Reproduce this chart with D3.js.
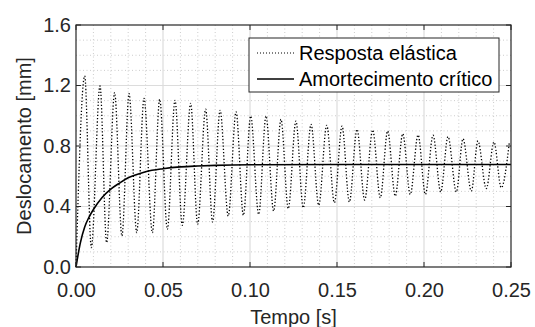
<!DOCTYPE html>
<html>
<head>
<meta charset="utf-8">
<script src="https://cdn.jsdelivr.net/npm/d3@7"></script>
<style>
	body{margin:0;background:#fff;}
	svg{display:block;font-family:"Liberation Sans",Arial,sans-serif;}
</style>
</head>
<body>
<div id="chart"></div>
<script>
// elastic response (peaks and troughs)
const elasticT = [0, 0.0050, 0.0088, 0.0138, 0.0176, 0.0222, 0.0264, 0.0305, 0.0349, 0.0391, 0.0439, 0.0481,
	0.0525, 0.0569, 0.0611, 0.0659, 0.0699, 0.0745, 0.0785, 0.0828, 0.0875, 0.0920, 0.0962, 0.1004,
	0.1050, 0.1092, 0.1136, 0.1178, 0.1220, 0.1264, 0.1306, 0.1351, 0.1395, 0.1441, 0.1485, 0.1529,
	0.1571, 0.1615, 0.1659, 0.1705, 0.1749, 0.1791, 0.1835, 0.1878, 0.1921, 0.1966, 0.2008, 0.2052,
	0.2096, 0.2138, 0.2186, 0.2224, 0.2272, 0.2310, 0.2358, 0.2402, 0.2444, 0.2490];
const elasticV = [0, 1.263, 0.128, 1.197, 0.161, 1.153, 0.205, 1.146, 0.227, 1.115, 0.227, 1.109,
	0.249, 1.102, 0.276, 1.082, 0.282, 1.043, 0.298, 1.036, 0.337, 1.025, 0.342, 0.998,
	0.348, 0.998, 0.370, 0.976, 0.386, 0.965, 0.392, 0.943, 0.408, 0.937, 0.425, 0.932,
	0.430, 0.910, 0.443, 0.906, 0.458, 0.899, 0.469, 0.881, 0.480, 0.873, 0.480, 0.871,
	0.496, 0.862, 0.496, 0.848, 0.502, 0.833, 0.518, 0.826, 0.524, 0.820];

// critical damping curve
const criticalT = [0, 0.0025, 0.005, 0.0075, 0.01, 0.015, 0.02, 0.025, 0.03, 0.035, 0.04, 0.05, 0.06, 0.07, 0.08, 0.1, 0.15, 0.2, 0.25];
const criticalV = [0, 0.16, 0.265, 0.33, 0.38, 0.46, 0.515, 0.555, 0.59, 0.612, 0.63, 0.65, 0.662, 0.668, 0.672, 0.676, 0.678, 0.678, 0.678];

const xTicks = [0, 0.05, 0.10, 0.15, 0.20, 0.25];
const yTicks = [0, 0.4, 0.8, 1.2, 1.6];
const legendLabels = ["Resposta elástica", "Amortecimento crítico"];

const width = 535, height = 327;
const margin = {t:25, r:24, b:60, l:76};
const w = width - margin.l - margin.r;
const h = height - margin.t - margin.b;
const axisColor = "#262626";

const svg = d3.select('#chart').append('svg')
	.attr('width', width)
	.attr('height', height);

const plot = svg.append('g')
	.attr('transform', `translate(${margin.l},${margin.t})`);

const scaleX = d3.scaleLinear().domain([0, 0.25]).range([0, w]);
const scaleY = d3.scaleLinear().domain([0, 1.6]).range([h, 0]);

// minor grid (dotted)
const minorX = d3.range(0.01, 0.25, 0.01).filter(d => Math.abs(d*20 - Math.round(d*20)) > 1e-6);
const minorY = d3.range(0.1, 1.6, 0.1).filter(d => Math.abs(d*2.5 - Math.round(d*2.5)) > 1e-6);

plot.append('g').attr('class','grid-minor')
	.selectAll('line').data(minorX).enter().append('line')
	.attr('x1', d => scaleX(d)).attr('x2', d => scaleX(d))
	.attr('y1', 0).attr('y2', h);
plot.append('g').attr('class','grid-minor')
	.selectAll('line').data(minorY).enter().append('line')
	.attr('x1', 0).attr('x2', w)
	.attr('y1', d => scaleY(d)).attr('y2', d => scaleY(d));
plot.selectAll('.grid-minor line')
	.style('stroke', '#cccccc')
	.style('stroke-width', 1)
	.style('stroke-dasharray', '1,2.5');

// major grid
plot.append('g').attr('class','grid-major')
	.selectAll('line').data(xTicks.slice(1, -1)).enter().append('line')
	.attr('x1', d => scaleX(d)).attr('x2', d => scaleX(d))
	.attr('y1', 0).attr('y2', h);
plot.append('g').attr('class','grid-major')
	.selectAll('line').data(yTicks.slice(1, -1)).enter().append('line')
	.attr('x1', 0).attr('x2', w)
	.attr('y1', d => scaleY(d)).attr('y2', d => scaleY(d));
plot.selectAll('.grid-major line')
	.style('stroke', '#dcdcdc')
	.style('stroke-width', 1.2);

// series
const elastic = elasticT.map((t, i) => ({t, v: elasticV[i]}));
const critical = criticalT.map((t, i) => ({t, v: criticalV[i]}));

const line = d3.line()
	.x(d => scaleX(d.t))
	.y(d => scaleY(d.v))
	.curve(d3.curveMonotoneX);

plot.append('path')
	.datum(elastic)
	.attr('d', line)
	.style('fill', 'none')
	.style('stroke', '#000')
	.style('stroke-width', 1.3)
	.style('stroke-dasharray', '1.3,2');

plot.append('path')
	.datum(critical)
	.attr('d', line)
	.style('fill', 'none')
	.style('stroke', '#000')
	.style('stroke-width', 1.6);

// axes
const axisX = d3.axisBottom(scaleX).tickValues(xTicks).tickSize(0).tickPadding(0)
	.tickFormat(d3.format('.2f'));
const axisY = d3.axisLeft(scaleY).tickValues(yTicks).tickSize(0).tickPadding(0)
	.tickFormat(d3.format('.1f'));

const axisXNode = plot.append('g')
	.attr('class','axis-x')
	.attr('transform', `translate(0,${h})`)
	.call(axisX);
axisXNode.selectAll('text')
	.attr('y', 16)
	.attr('dy', '0.71em');

const axisYNode = plot.append('g')
	.attr('class','axis-y')
	.call(axisY);
axisYNode.selectAll('text')
	.attr('x', -5);

plot.selectAll('.axis-x .domain, .axis-y .domain').style('display','none');
plot.selectAll('.axis-x text, .axis-y text')
	.style('font-size', '20px')
	.style('font-family', '"Liberation Sans",Arial,sans-serif')
	.style('fill', axisColor);

// inward ticks on all four sides
const tickLen = 5;
const ticks = plot.append('g').attr('class','ticks');
xTicks.forEach(d => {
	ticks.append('line').attr('x1', scaleX(d)).attr('x2', scaleX(d)).attr('y1', h).attr('y2', h - tickLen);
	ticks.append('line').attr('x1', scaleX(d)).attr('x2', scaleX(d)).attr('y1', 0).attr('y2', tickLen);
});
yTicks.forEach(d => {
	ticks.append('line').attr('x1', 0).attr('x2', tickLen).attr('y1', scaleY(d)).attr('y2', scaleY(d));
	ticks.append('line').attr('x1', w).attr('x2', w - tickLen).attr('y1', scaleY(d)).attr('y2', scaleY(d));
});
ticks.selectAll('line').style('stroke', axisColor).style('stroke-width', 1);

// box
plot.append('rect')
	.attr('width', w).attr('height', h)
	.style('fill', 'none')
	.style('stroke', axisColor)
	.style('stroke-width', 1.2);

// axis titles
svg.append('text')
	.attr('x', margin.l + w/2)
	.attr('y', 324)
	.attr('text-anchor', 'middle')
	.style('font-size', '20px')
	.style('fill', axisColor)
	.text('Tempo [s]');

svg.append('text')
	.attr('transform', `translate(31,${margin.t + h/2}) rotate(-90)`)
	.attr('text-anchor', 'middle')
	.style('font-size', '20px')
	.style('fill', axisColor)
	.text('Deslocamento [mm]');

// legend
const legend = svg.append('g').attr('transform', 'translate(249,38)');
legend.append('rect')
	.attr('width', 250).attr('height', 54)
	.style('fill', '#fff')
	.style('stroke', axisColor)
	.style('stroke-width', 1);

const legendRows = legend.selectAll('.row')
	.data(legendLabels)
	.enter().append('g')
	.attr('class','row')
	.attr('transform', (d, i) => `translate(0,${15 + i*26})`);

legendRows.append('line')
	.attr('x1', 8).attr('x2', 45)
	.attr('y1', 0).attr('y2', 0)
	.style('stroke', '#000')
	.style('stroke-width', (d, i) => i ? 1.3 : 1)
	.style('stroke-dasharray', (d, i) => i ? null : '1,2');

legendRows.append('text')
	.attr('x', 50)
	.attr('dy', '0.35em')
	.style('font-size', '20px')
	.style('fill', '#000')
	.text(d => d);
</script>
</body>
</html>
